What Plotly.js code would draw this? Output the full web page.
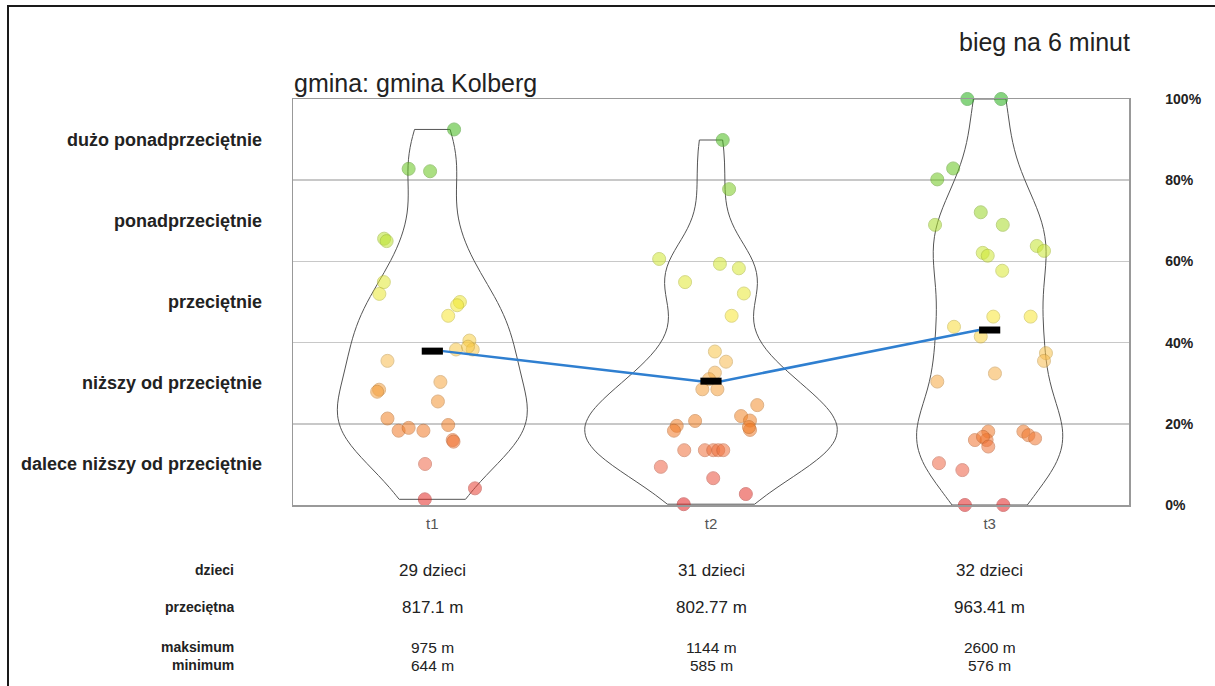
<!DOCTYPE html>
<html>
<head>
<meta charset="utf-8">
<script src="https://cdn.plot.ly/plotly-3.0.1.min.js"></script>
<style>
  html, body { margin: 0; padding: 0; background: #fff; }
  #chart { width: 1215px; height: 686px; }
</style>
</head>
<body>
<div id="chart"></div>
<script>
// Measurement rounds
const groups = ['t1', 't2', 't3'];

// Percentile position of each child's 6-minute run result, per round
const t1Values = [92.5, 82.8, 82.2, 65.6, 65.0, 54.9, 52.0, 50.0, 49.2, 46.6, 40.5, 38.3, 38.3, 39.0, 35.5,
                  30.3, 28.4, 27.9, 25.5, 21.3, 18.3, 19.0, 18.3, 19.7, 16.0, 15.6, 10.1, 4.1, 1.4];
const t2Values = [89.9, 77.8, 60.6, 59.4, 58.3, 54.9, 52.1, 46.6, 37.8, 35.3, 32.6, 31.0, 28.5, 28.5, 24.6,
                  21.9, 20.8, 18.5, 19.2, 20.7, 19.5, 18.3, 13.5, 13.5, 13.5, 13.5, 13.5, 9.4, 6.6, 2.7, 0.2];
const t3Values = [100, 100, 82.9, 80.2, 72.1, 69.0, 69.0, 63.8, 62.6, 62.1, 61.4, 57.7, 46.4, 46.4, 43.9, 41.5,
                  37.4, 35.5, 32.4, 30.4, 18.1, 18.1, 17.2, 16.4, 16.0, 16.0, 16.8, 14.4, 10.3, 8.6, 0, 0];

// Horizontal jitter of each point around its round (in category units)
const t1Jitter = [0.078, -0.085, -0.008, -0.173, -0.164, -0.174, -0.190, 0.099, 0.089, 0.057, 0.133, 0.085, 0.145, 0.128, -0.161,
                  0.029, -0.191, -0.198, 0.020, -0.161, -0.121, -0.085, -0.032, 0.057, 0.073, 0.076, -0.026, 0.153, -0.027];
const t2Jitter = [0.042, 0.065, -0.186, 0.032, 0.100, -0.093, 0.118, 0.074, 0.014, 0.054, 0.014, -0.007, -0.031, 0.023, 0.166,
                  0.108, 0.140, 0.140, 0.136, -0.057, -0.123, -0.133, -0.096, -0.022, 0.008, 0.026, 0.044, -0.180, 0.008, 0.125, -0.098];
const t3Jitter = [-0.080, 0.041, -0.131, -0.188, -0.032, 0.047, -0.196, 0.169, 0.195, -0.025, -0.007, 0.045, 0.013, 0.147, -0.128, -0.032,
                  0.202, 0.195, 0.019, -0.188, -0.005, 0.121, 0.139, 0.163, -0.053, -0.011, -0.024, -0.005, -0.182, -0.098, -0.089, 0.049];

// Average level per round (percentile scale)
const meanLevels = [37.9, 30.5, 43.1];

// Summary table
const childCounts = [29, 31, 32];
const averageMetres = ['817.1', '802.77', '963.41'];
const maxMetres = [975, 1144, 2600];
const minMetres = [644, 585, 576];

// Band descriptions on the left and percent ticks on the right
const bandLabels = ['dalece niższy od przeciętnie', 'niższy od przeciętnie', 'przeciętnie', 'ponadprzeciętnie', 'dużo ponadprzeciętnie'];
const bandCentres = [10, 30, 50, 70, 90];
const percentTicks = [0, 20, 40, 60, 80, 100];

const valueSets = [t1Values, t2Values, t3Values];
const jitterSets = [t1Jitter, t2Jitter, t3Jitter];

// Kernel width: Silverman's rule (R's bw.nrd0), slightly tightened
function quantile(sorted, p) {
  const h = (sorted.length - 1) * p;
  const lo = Math.floor(h), hi = Math.ceil(h);
  return sorted[lo] + (sorted[hi] - sorted[lo]) * (h - lo);
}
function nrd0(v) {
  const s = v.slice().sort((a, b) => a - b);
  const n = s.length;
  const m = s.reduce((a, b) => a + b, 0) / n;
  const sd = Math.sqrt(s.reduce((a, b) => a + (b - m) * (b - m), 0) / (n - 1));
  const iqr = quantile(s, 0.75) - quantile(s, 0.25);
  const lo = Math.min(sd, iqr / 1.34);
  return 0.9 * lo * Math.pow(n, -0.2);
}
const BW_ADJUST = 0.85;
const bandwidths = valueSets.map(v => nrd0(v) * BW_ADJUST);

// Peak of the gaussian density over the data span, so violins share one density scale (equal area)
function peakDensity(v, bw) {
  const lo = Math.min(...v), hi = Math.max(...v);
  let best = 0;
  for (let k = 0; k <= 400; k++) {
    const y = lo + (hi - lo) * k / 400;
    let s = 0;
    v.forEach(x => { const z = (y - x) / bw; s += Math.exp(-0.5 * z * z); });
    best = Math.max(best, s / (v.length * bw * Math.sqrt(2 * Math.PI)));
  }
  return best;
}
const peaks = valueSets.map((v, i) => peakDensity(v, bandwidths[i]));
const widestPeak = Math.max(...peaks);
const FULL_WIDTH = 0.905;

const FONT = 'Liberation Sans, Arial, sans-serif';
const INK = '#222';

const fillScale = [
  [0.00, 'rgb(226,34,34)'],
  [0.10, 'rgb(240,104,72)'],
  [0.20, 'rgb(241,126,34)'],
  [0.35, 'rgb(248,186,80)'],
  [0.47, 'rgb(248,232,50)'],
  [0.62, 'rgb(205,232,50)'],
  [0.80, 'rgb(112,200,30)'],
  [1.00, 'rgb(36,178,24)']
];
const edgeScale = fillScale.map(([p, c]) => {
  const rgb = c.match(/\d+/g).map(Number).map(x => Math.round(x * 0.8));
  return [p, 'rgb(' + rgb.join(',') + ')'];
});

const traces = [];

// Violin outlines
valueSets.forEach((vals, i) => {
  traces.push({
    type: 'violin',
    x0: i,
    y: vals,
    name: groups[i],
    width: FULL_WIDTH * peaks[i] / widestPeak,
    scalegroup: 'round-' + groups[i],
    scalemode: 'width',
    spanmode: 'hard',
    bandwidth: bandwidths[i],
    points: false,
    box: { visible: false },
    meanline: { visible: false },
    line: { color: '#555', width: 1 },
    fillcolor: 'rgba(0,0,0,0)',
    hoverinfo: 'skip',
    showlegend: false
  });
});

// Individual children
valueSets.forEach((vals, i) => {
  traces.push({
    type: 'scatter',
    mode: 'markers',
    x: vals.map((v, k) => i + jitterSets[i][k]),
    y: vals,
    cliponaxis: false,
    marker: {
      size: 13,
      color: vals,
      cmin: 0, cmax: 100,
      colorscale: fillScale,
      opacity: 0.55,
      line: { width: 1, color: vals, cmin: 0, cmax: 100, colorscale: edgeScale }
    },
    hoverinfo: 'skip',
    showlegend: false
  });
});

// Trend between round averages, running from bar end to bar end
const half = 0.038;
const trendX = [], trendY = [];
meanLevels.forEach((m, i) => {
  if (i > 0) { trendX.push(i - half); trendY.push(m); }
  if (i < meanLevels.length - 1) { trendX.push(i + half); trendY.push(m); }
});
traces.push({
  type: 'scatter', mode: 'lines',
  x: trendX, y: trendY,
  line: { color: '#2f7fd0', width: 2.5 },
  hoverinfo: 'skip', showlegend: false
});

// Average markers
const barX = [], barY = [];
meanLevels.forEach((m, i) => {
  barX.push(i - half, i + half, null);
  barY.push(m, m, null);
});
traces.push({
  type: 'scatter', mode: 'lines',
  x: barX, y: barY,
  line: { color: '#000', width: 7 },
  hoverinfo: 'skip', showlegend: false
});

// Plot box geometry (pixels) used to place text outside the axes
const W = 1215, H = 686;
const M = { l: 293, r: 86, t: 99, b: 181 };
const pw = W - M.l - M.r, ph = H - M.t - M.b;
const px = x => (x - M.l) / pw;
const py = y => (H - M.b - y) / ph;

const annotations = [];
annotations.push({
  xref: 'paper', yref: 'paper', x: px(292), y: py(83), xanchor: 'left', yanchor: 'middle',
  text: 'gmina: gmina Kolberg', showarrow: false,
  font: { family: FONT, size: 25, color: INK }
});
annotations.push({
  xref: 'paper', yref: 'paper', x: px(1132), y: py(42), xanchor: 'right', yanchor: 'middle',
  text: 'bieg na 6 minut', showarrow: false,
  font: { family: FONT, size: 25, color: INK }
});
bandLabels.forEach((t, k) => {
  annotations.push({
    xref: 'paper', yref: 'y', x: px(264), y: bandCentres[k], xanchor: 'right', yanchor: 'middle',
    text: t, showarrow: false,
    font: { family: FONT, size: 18, color: INK, weight: 'bold' }
  });
});

const rows = [
  { label: 'dzieci', y: 570, size: 17, cells: childCounts.map(c => c + ' dzieci') },
  { label: 'przeciętna', y: 607, size: 17, cells: averageMetres.map(v => v + ' m') },
  { label: 'maksimum', y: 647, size: 15.5, cells: maxMetres.map(v => v + ' m') },
  { label: 'minimum', y: 665, size: 15.5, cells: minMetres.map(v => v + ' m') }
];
rows.forEach(r => {
  annotations.push({
    xref: 'paper', yref: 'paper', x: px(236), y: py(r.y), xanchor: 'right', yanchor: 'middle',
    text: r.label, showarrow: false, height: 16,
    font: { family: FONT, size: 14, color: INK, weight: 'bold' }
  });
  r.cells.forEach((c, i) => {
    annotations.push({
      xref: 'x', yref: 'paper', x: i, y: py(r.y), xanchor: 'center', yanchor: 'middle',
      text: c, showarrow: false, height: 17,
      font: { family: FONT, size: r.size, color: INK }
    });
  });
});

// Outer frame, open at the right and bottom
const shapes = [{
  type: 'path', xref: 'paper', yref: 'paper',
  path: `M ${px(8)} ${py(H + 4)} L ${px(8)} ${py(6)} L ${px(W + 4)} ${py(6)}`,
  line: { color: '#1a1a1a', width: 2 }
}];

const layout = {
  width: W, height: H,
  margin: M,
  paper_bgcolor: '#fff', plot_bgcolor: '#fff',
  violinmode: 'overlay',
  showlegend: false,
  font: { family: FONT, color: INK },
  xaxis: {
    type: 'linear',
    range: [-0.5, 2.5],
    tickvals: [0, 1, 2],
    ticktext: groups,
    showgrid: false, zeroline: false,
    showline: true, mirror: true, linecolor: '#999', linewidth: 1.5,
    ticks: '',
    ticklabelstandoff: 4,
    tickfont: { family: FONT, size: 15, color: '#555' }
  },
  yaxis: {
    range: [0, 100],
    side: 'right',
    tickvals: percentTicks,
    ticktext: percentTicks.map(v => v + '%'),
    showgrid: true, gridcolor: '#c8c8c8', gridwidth: 1.5,
    zeroline: false,
    showline: true, mirror: true, linecolor: '#999', linewidth: 1.5,
    ticks: '',
    ticklabelstandoff: 32,
    tickfont: { family: FONT, size: 14, color: INK, weight: 'bold' }
  },
  annotations: annotations,
  shapes: shapes
};

Plotly.newPlot('chart', traces, layout, { staticPlot: true, displayModeBar: false });
</script>
</body>
</html>
